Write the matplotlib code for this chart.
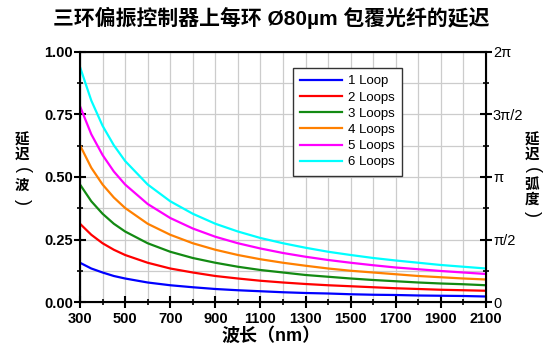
import matplotlib
matplotlib.use("Agg")
import matplotlib.pyplot as plt
from matplotlib.ticker import MultipleLocator

plt.rcParams['font.family'] = ['Liberation Sans', 'Noto Sans CJK SC', 'DejaVu Sans']

# wavelength (nm)
wavelength = [300, 350, 400, 450, 500, 600, 700, 800, 900, 1000, 1100, 1200,
              1300, 1400, 1500, 1600, 1700, 1800, 1900, 2000, 2100]

# retardance (waves)
loop1 = [0.157, 0.134, 0.118, 0.104, 0.094, 0.078, 0.067, 0.059, 0.052, 0.047, 0.043,
         0.039, 0.036, 0.034, 0.031, 0.029, 0.028, 0.026, 0.025, 0.024, 0.022]
loop2 = [0.313, 0.269, 0.235, 0.209, 0.188, 0.157, 0.134, 0.118, 0.104, 0.094, 0.085,
         0.078, 0.072, 0.067, 0.063, 0.059, 0.055, 0.052, 0.049, 0.047, 0.045]
loop3 = [0.470, 0.403, 0.353, 0.313, 0.282, 0.235, 0.201, 0.176, 0.157, 0.141, 0.128,
         0.118, 0.108, 0.101, 0.094, 0.088, 0.083, 0.078, 0.074, 0.071, 0.067]
loop4 = [0.627, 0.537, 0.470, 0.418, 0.376, 0.313, 0.269, 0.235, 0.209, 0.188, 0.171,
         0.157, 0.145, 0.134, 0.125, 0.118, 0.111, 0.104, 0.099, 0.094, 0.090]
loop5 = [0.783, 0.671, 0.588, 0.522, 0.470, 0.392, 0.336, 0.294, 0.261, 0.235, 0.214,
         0.196, 0.181, 0.168, 0.157, 0.147, 0.138, 0.131, 0.124, 0.118, 0.112]
loop6 = [0.940, 0.806, 0.705, 0.627, 0.564, 0.470, 0.403, 0.353, 0.313, 0.282, 0.256,
         0.235, 0.217, 0.201, 0.188, 0.176, 0.166, 0.157, 0.148, 0.141, 0.134]

labels = ["1 Loop", "2 Loops", "3 Loops", "4 Loops", "5 Loops", "6 Loops"]
colors = ["#0000ff", "#ff0000", "#138a13", "#ff8000", "#ff00ff", "#00ffff"]
series = [loop1, loop2, loop3, loop4, loop5, loop6]

x_ticks = [300, 500, 700, 900, 1100, 1300, 1500, 1700, 1900, 2100]
wave_ticks = [0, 0.25, 0.5, 0.75, 1.0]
wave_labels = ["0.00", "0.25", "0.50", "0.75", "1.00"]
rad_labels = ["0", "π/2", "π", "3π/2", "2π"]

fig = plt.figure(figsize=(5.44, 3.56), dpi=100)
ax = fig.add_axes([80 / 544, 54 / 356, 406 / 544, 250 / 356])

for y, lab, c in zip(series, labels, colors):
    ax.plot(wavelength, y, color=c, lw=1.6, label=lab)

ax.set_xlim(300, 2100)
ax.set_ylim(0, 1)
ax.set_xticks(x_ticks)
ax.xaxis.set_minor_locator(MultipleLocator(100))
ax.set_yticks(wave_ticks)
ax.set_yticklabels(wave_labels)
ax.yaxis.set_minor_locator(MultipleLocator(0.125))
ax.grid(True, which="both", color="#cccccc", lw=0.9)
ax.set_axisbelow(True)

ax.tick_params(which="major", direction="inout", length=8, width=1.5, labelsize=10.5, pad=1)
ax.tick_params(axis="x", which="major", pad=3)
ax.tick_params(which="minor", direction="inout", length=5, width=1.2)
ax.tick_params(axis="y", which="both", right=False)
for t in ax.get_xticklabels() + ax.get_yticklabels():
    t.set_fontweight("bold")
for s in ax.spines.values():
    s.set_linewidth(1.5)

ax2 = ax.twinx()
ax2.set_ylim(0, 1)
ax2.set_yticks(wave_ticks)
ax2.set_yticklabels(rad_labels)
ax2.yaxis.set_minor_locator(MultipleLocator(0.125))
ax2.tick_params(which="major", direction="inout", length=8, width=1.5, labelsize=10.5, pad=1)
ax2.tick_params(which="minor", direction="inout", length=5, width=1.2)

fig.text(271 / 544, 1 - 18 / 356, "三环偏振控制器上每环 Ø80µm 包覆光纤的延迟",
         ha="center", va="center", fontsize=15, fontweight="bold")
fig.text(271 / 544, 1 - 336 / 356, "波长（nm）", ha="center", va="center",
         fontsize=13, fontweight="bold")

# vertical axis titles, one character at a time; brackets turned sideways
left_chars = [("延", 140), ("迟", 155), ("(", 170), ("波", 186), (")", 202)]
right_chars = [("延", 140), ("迟", 155), ("(", 170), ("弧", 185), ("度", 200), (")", 214)]
for chars, xpix in [(left_chars, 22), (right_chars, 532)]:
    for ch, ypix in chars:
        if ch in "()":
            fig.text(xpix / 544, 1 - ypix / 356, ch, ha="center", va="center",
                     fontsize=13, rotation=-90)
        else:
            fig.text(xpix / 544, 1 - ypix / 356, ch, ha="center", va="center",
                     fontsize=10.5, fontweight="bold")

leg = ax.legend(loc="upper left", bbox_to_anchor=(213 / 406, (302 - 68) / 250),
                fontsize=9.5, frameon=True, fancybox=False, handlelength=3.2,
                labelspacing=0.3, borderpad=0.55, handletextpad=0.4, borderaxespad=0)
leg.get_frame().set_edgecolor("#333333")
leg.get_frame().set_linewidth(1.0)
leg.get_frame().set_alpha(1)

fig.savefig("out.png", dpi=100)
